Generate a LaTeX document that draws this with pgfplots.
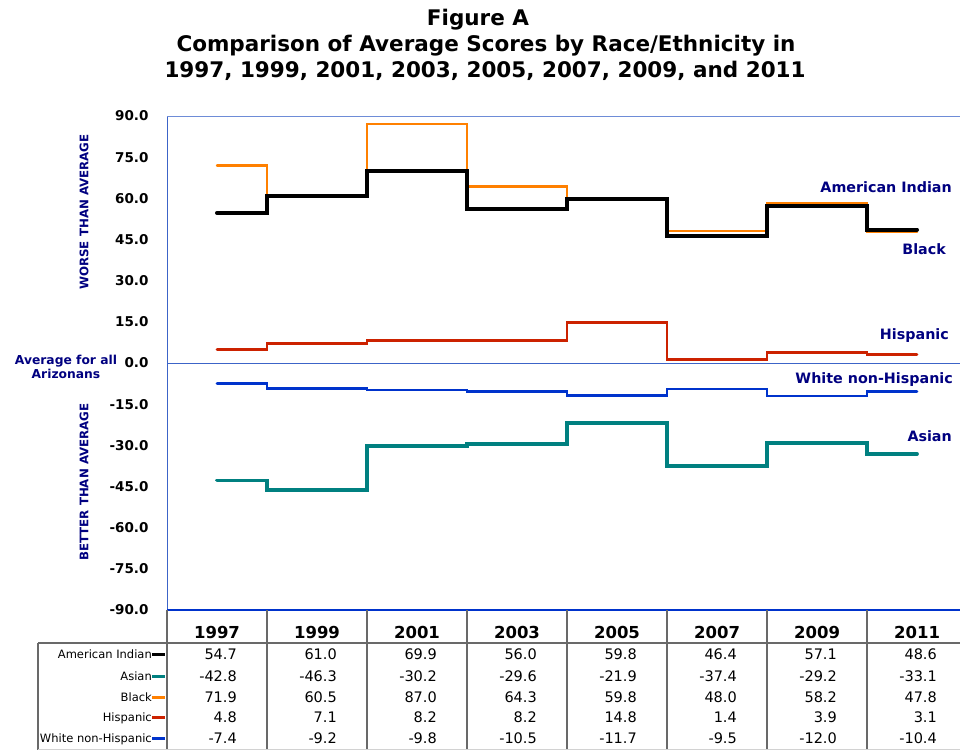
\documentclass[border=0pt]{standalone}
\usepackage{pgfplots}
\pgfplotsset{compat=1.18}
\usepackage{pgfplotstable}
\usepackage{fontspec}
\setmainfont{DejaVu Sans}
\newcommand\fs[1]{\fontsize{#1}{#1}\selectfont}
\definecolor{navy}{RGB}{0,0,128}
\definecolor{axblue}{RGB}{60,100,200}
\definecolor{topblue}{RGB}{110,140,215}
\definecolor{orangeL}{RGB}{255,128,0}
\definecolor{tealL}{RGB}{0,128,128}
\definecolor{redL}{RGB}{204,34,0}
\definecolor{blueL}{RGB}{0,51,204}
\definecolor{gridgray}{RGB}{105,105,105}

\pgfplotstableread{
x AI AS BL HI WH
0 54.7 -42.8 71.9 4.8 -7.4
1 61.0 -46.3 60.5 7.1 -9.2
2 69.9 -30.2 87.0 8.2 -9.8
3 56.0 -29.6 64.3 8.2 -10.5
4 59.8 -21.9 59.8 14.8 -11.7
5 46.4 -37.4 48.0 1.4 -9.5
6 57.1 -29.2 58.2 3.9 -12.0
7 48.6 -33.1 47.8 3.1 -10.4
}\data

\begin{document}
\begin{tikzpicture}
\path[use as bounding box] (0,0) rectangle (960pt,-750pt);
\begin{axis}[
  at={(167pt,-610pt)}, anchor=south west,
  scale only axis, width=793pt, height=494pt,
  xmin=-0.5, xmax=7.43, ymin=-90, ymax=90,
  ytick={-90,-75,...,90},
  xtick={0,...,7},
  xticklabels={1997,1999,2001,2003,2005,2007,2009,2011},
  major tick length=0pt,
  axis line style={draw=none},
  /pgf/number format/assume math mode=true,
  yticklabel style={/pgf/number format/fixed,/pgf/number format/fixed zerofill,/pgf/number format/precision=1,
     font=\bfseries\fs{13.5}, xshift=-15pt},
  xticklabel style={font=\bfseries\fs{16.5}, yshift=-12.5pt},
]
\draw[axblue, line width=1pt] (axis cs:-0.5,0) -- (axis cs:7.43,0);
\addplot[const plot mark mid, orangeL, line width=2.4pt, line cap=round] table[x=x,y=BL]{\data};
\addplot[const plot mark mid, black, line width=4pt, line cap=round] table[x=x,y=AI]{\data};
\addplot[const plot mark mid, tealL, line width=3.8pt, line cap=round] table[x=x,y=AS]{\data};
\addplot[const plot mark mid, redL, line width=2.8pt, line cap=round] table[x=x,y=HI]{\data};
\addplot[const plot mark mid, blueL, line width=2.8pt, line cap=round] table[x=x,y=WH]{\data};
\draw[axblue, line width=1.2pt] (rel axis cs:0,0) -- (rel axis cs:0,1);
\draw[topblue, line width=1.5pt] (rel axis cs:0,1) -- (rel axis cs:1,1);
\draw[blueL, line width=1.2pt] (rel axis cs:0,0) -- (rel axis cs:1,0);
\end{axis}

\begin{scope}[x=1pt,y=-1pt]
% title
\node[anchor=base, font=\bfseries\fs{21.5}] at (478,25) {Figure A};
\node[anchor=base, font=\bfseries\fs{21.5}] at (486,51) {Comparison of Average Scores by Race/Ethnicity in};
\node[anchor=base, font=\bfseries\fs{21.5}] at (485,77) {1997, 1999, 2001, 2003, 2005, 2007, 2009, and 2011};
% y labels
\node[rotate=90, font=\bfseries\fs{11.8}, text=navy] at (84,212) {WORSE THAN AVERAGE};
\node[rotate=90, font=\bfseries\fs{11.8}, text=navy] at (84,482) {BETTER THAN AVERAGE};
\node[font=\bfseries\fs{12.3}, text=navy, align=center, inner sep=0] at (66,367) {Average for all\\[1pt]Arizonans};
% series names
\node[anchor=east, font=\bfseries\fs{14.3}, text=navy, inner sep=0] at (952,187) {American Indian};
\node[anchor=east, font=\bfseries\fs{14.3}, text=navy, inner sep=0] at (946,249) {Black};
\node[anchor=east, font=\bfseries\fs{14.3}, text=navy, inner sep=0] at (949,336) {Hispanic};
\node[anchor=east, font=\bfseries\fs{14.3}, text=navy, inner sep=0] at (953,380) {White non-Hispanic};
\node[anchor=east, font=\bfseries\fs{14.3}, text=navy, inner sep=0] at (952,436) {Asian};
% table grid
\foreach \xx in {167,267,...,867} \draw[gridgray, line width=1.5pt] (\xx,610) -- (\xx,750);
\draw[gridgray, line width=1.5pt] (38,643) -- (960,643);
\draw[gridgray, line width=1.2pt] (38,643) -- (38,750);
\draw[gray!35, line width=1pt] (38,749.5) -- (960,749.5);
% legend rows
\foreach \nm/\cl/\yy in {American Indian/black/654, Asian/tealL/676, Black/orangeL/697, Hispanic/redL/717, White non-Hispanic/blueL/738}{
  \node[anchor=base east, font=\fs{11.5}, inner sep=0] at (152,\yy+4.2) {\nm};
  \draw[\cl, line width=3pt] (152,\yy) -- (165,\yy);
}
% values
\foreach \c/\yy in {AI/654, AS/676, BL/697, HI/717, WH/738}{
  \foreach \r in {0,...,7}{
    \pgfplotstablegetelem{\r}{\c}\of\data
    \node[anchor=base east, font=\fs{14.5}, inner sep=0] at (237+100*\r,\yy+5.3) {\pgfplotsretval};
  }
}
\end{scope}
\end{tikzpicture}
\end{document}
